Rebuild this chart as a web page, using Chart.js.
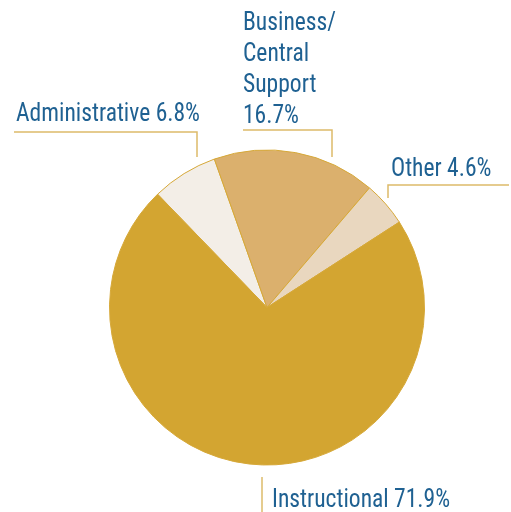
<!DOCTYPE html>
<html>
<head>
<meta charset="utf-8">
<script src="https://cdn.jsdelivr.net/npm/chart.js@4.4.1/dist/chart.umd.min.js"></script>
<style>
  html, body { margin: 0; padding: 0; background: #ffffff; }
  #c { display: block; }
</style>
</head>
<body>
<canvas id="c" width="511" height="512"></canvas>
<script>
// Spending shares, listed clockwise from the upper-left edge of the pie
const categories = ['Administrative', 'Business/Central Support', 'Other', 'Instructional'];
const shares = [6.8, 16.7, 4.6, 71.9];
const sliceColors = ['#F3EEE7', '#DBB06D', '#E9D7BF', '#D3A531'];

// How each category name wraps in its callout
const labelLines = [
  ['Administrative'],
  ['Business/', 'Central', 'Support'],
  ['Other'],
  ['Instructional']
];

const LABEL_FONT = "'Liberation Sans Narrow', 'Roboto Condensed', 'DejaVu Sans Condensed', sans-serif";
const LABEL_COLOR = '#1F6192';
const LEADER_COLOR = '#DDBB6A';

// Callout placement: text anchor, then leader polyline
const callouts = [
  { x: 16,  y: 121, inline: true,  leader: [[14, 132], [197, 132], [197, 157]] },
  { x: 243, y: 30,  inline: false, leader: [[243, 130], [332, 130], [332, 157]] },
  { x: 391, y: 176, inline: true,  leader: [[509, 185], [388, 185], [388, 198]] },
  { x: 272, y: 507, inline: true,  leader: [[262, 477], [262, 512]] }
];

const calloutPlugin = {
  id: 'callouts',
  afterDraw(chart) {
    const ctx = chart.ctx;
    ctx.save();
    ctx.font = '25px ' + LABEL_FONT;
    // squeeze the face to a condensed width
    const natural = ctx.measureText('Administrative 6.8%').width;
    const sx = 184 / natural;
    callouts.forEach((c, i) => {
      ctx.strokeStyle = LEADER_COLOR;
      ctx.lineWidth = 1.5;
      ctx.beginPath();
      c.leader.forEach((p, k) => k ? ctx.lineTo(p[0], p[1]) : ctx.moveTo(p[0], p[1]));
      ctx.stroke();

      const pct = shares[i].toFixed(1) + '%';
      const lines = c.inline ? [labelLines[i].join(' ') + ' ' + pct] : labelLines[i].concat([pct]);
      ctx.fillStyle = LABEL_COLOR;
      ctx.textBaseline = 'alphabetic';
      ctx.textAlign = 'left';
      lines.forEach((t, k) => {
        ctx.save();
        ctx.translate(c.x, c.y + k * 31);
        ctx.scale(sx, 1);
        ctx.fillText(t, 0, 0);
        ctx.restore();
      });
    });
    ctx.restore();
  }
};

new Chart(document.getElementById('c'), {
  type: 'pie',
  data: {
    labels: categories,
    datasets: [{
      data: shares,
      backgroundColor: sliceColors,
      borderColor: '#D6A838',
      borderWidth: 1
    }]
  },
  options: {
    responsive: false,
    animation: false,
    rotation: -44,
    layout: { padding: { left: 109, right: 86, top: 149, bottom: 46 } },
    plugins: {
      legend: { display: false },
      tooltip: { enabled: false }
    }
  },
  plugins: [calloutPlugin]
});
</script>
</body>
</html>
